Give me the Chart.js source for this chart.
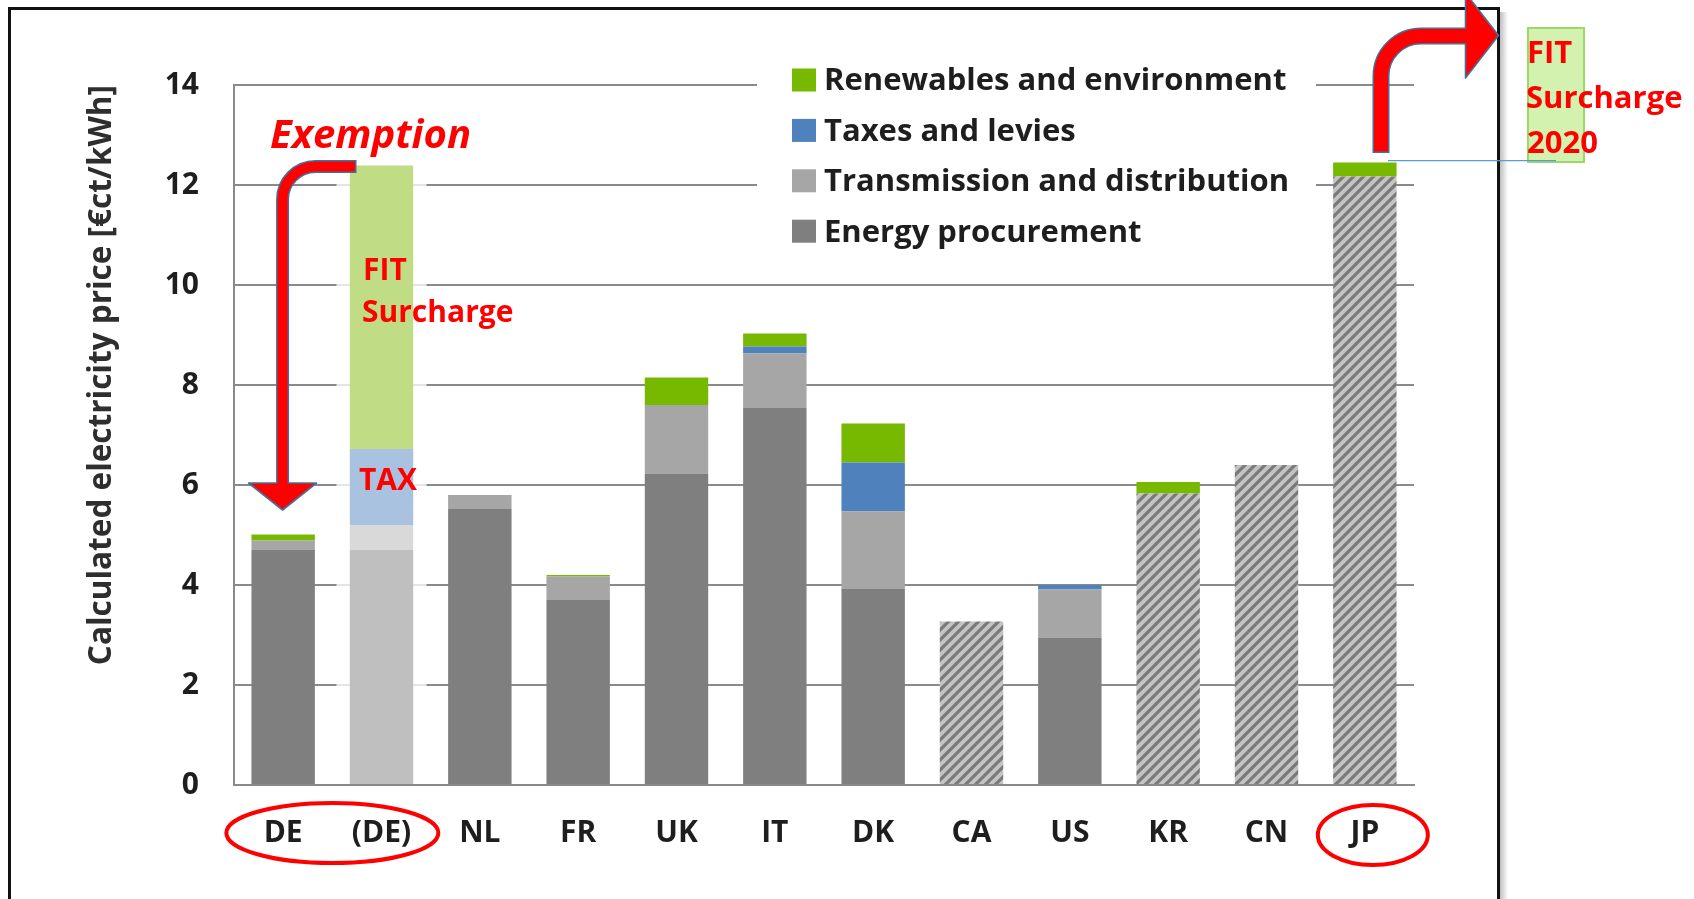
<!DOCTYPE html>
<html lang="en">
  <head>
    <meta charset="UTF-8" />
    <meta name="viewport" content="width=device-width, initial-scale=1.0" />
    <script src="https://cdn.jsdelivr.net/npm/chart.js"></script>
    <title>Calculated electricity price</title>
    <style>
      html,
      body {
        margin: 0;
        padding: 0;
        background: #fff;
        overflow: hidden;
      }
      .graph {
        position: relative;
        width: 1694px;
        height: 899px;
      }
    </style>
  </head>

  <body>
    <div class="graph">
      <canvas id="canvas_grafico" width="1694" height="899"></canvas>
    </div>
  </body>
</html>
<script>
  // values, €ct/kWh
  var countries = ["DE", "(DE)", "NL", "FR", "UK", "IT", "DK", "CA", "US", "KR", "CN", "JP"];
  var energyProcurement = [4.7, 4.7, 5.52, 3.71, 6.23, 7.55, 3.93, 0, 2.95, 0, 0, 0];
  var noBreakdown = [0, 0, 0, 0, 0, 0, 0, 3.27, 0, 5.83, 6.4, 12.17];
  var transmission = [0.19, 0.5, 0.28, 0.46, 1.37, 1.08, 1.54, 0, 0.96, 0, 0, 0];
  var taxes = [0, 1.52, 0, 0, 0, 0.14, 0.98, 0, 0.09, 0, 0, 0];
  var renewables = [0.12, 5.67, 0, 0.03, 0.55, 0.26, 0.78, 0, 0, 0.23, 0, 0.28];
  var yTicks = [0, 2, 4, 6, 8, 10, 12, 14];

  var RED = "#ff0000";
  var OUTLINE = "#41719c";
  var FONT = "'Open Sans', Lato, sans-serif";

  // the (DE) column is drawn in pale colours
  var paleIndex = 1;
  function colour(normal, pale) {
    return function (ctx) {
      return ctx.dataIndex === paleIndex ? pale : normal;
    };
  }

  // hatch for the columns without breakdown
  function hatch() {
    var c = document.createElement("canvas");
    c.width = 10;
    c.height = 10;
    var g = c.getContext("2d");
    g.fillStyle = "#c4c4c4";
    g.fillRect(0, 0, 10, 10);
    g.strokeStyle = "#7a7a7a";
    g.lineWidth = 3.2;
    g.beginPath();
    g.moveTo(0, 10);
    g.lineTo(10, 0);
    g.moveTo(-3, 3);
    g.lineTo(3, -3);
    g.moveTo(7, 13);
    g.lineTo(13, 7);
    g.stroke();
    return g.createPattern(c, "repeat");
  }

  var dados = {
    labels: countries,
    datasets: [
      {
        label: "Energy procurement",
        data: energyProcurement,
        backgroundColor: colour("#7f7f7f", "#bfbfbf"),
        legendColor: "#7f7f7f",
      },
      {
        label: "No breakdown",
        data: noBreakdown,
        backgroundColor: hatch(),
        hideInLegend: true,
      },
      {
        label: "Transmission and distribution",
        data: transmission,
        backgroundColor: colour("#a6a6a6", "#d9d9d9"),
        legendColor: "#a6a6a6",
      },
      {
        label: "Taxes and levies",
        data: taxes,
        backgroundColor: colour("#4f81bd", "#a9c2df"),
        legendColor: "#4f81bd",
      },
      {
        label: "Renewables and environment",
        data: renewables,
        backgroundColor: colour("#77b800", "#c0dc84"),
        legendColor: "#77b800",
      },
    ],
  };

  function drawArrow(ctx, path, head, width) {
    ctx.save();
    ctx.lineCap = "butt";
    ctx.lineJoin = "round";
    ctx.strokeStyle = OUTLINE;
    ctx.lineWidth = width + 3;
    ctx.beginPath();
    path(true);
    ctx.stroke();
    ctx.beginPath();
    ctx.moveTo(head[0][0], head[0][1]);
    ctx.lineTo(head[1][0], head[1][1]);
    ctx.lineTo(head[2][0], head[2][1]);
    ctx.closePath();
    ctx.fillStyle = RED;
    ctx.fill();
    ctx.lineWidth = 1.6;
    ctx.stroke();
    ctx.strokeStyle = RED;
    ctx.lineWidth = width;
    ctx.beginPath();
    path(false);
    ctx.stroke();
    ctx.restore();
  }

  var annotations = {
    id: "annotations",
    beforeDatasetsDraw: function (chart) {
      var ctx = chart.ctx;
      var x = chart.scales.x;
      var area = chart.chartArea;
      ctx.save();
      // pale strip behind (DE)
      var cx = x.getPixelForValue(1);
      ctx.fillStyle = "rgba(255,255,255,0.78)";
      ctx.fillRect(cx - 45, 150, 90, area.bottom - 151);
      // white box behind legend
      ctx.fillStyle = "#fff";
      ctx.fillRect(757, 50, 559, 205);
      ctx.restore();
    },
    afterDraw: function (chart) {
      var ctx = chart.ctx;
      var x = chart.scales.x;
      ctx.save();

      // frame
      var grad = ctx.createLinearGradient(1500, 0, 1508, 0);
      grad.addColorStop(0, "rgba(0,0,0,0.25)");
      grad.addColorStop(1, "rgba(0,0,0,0)");
      ctx.fillStyle = grad;
      ctx.fillRect(1500, 12, 8, 900);
      ctx.strokeStyle = "#111";
      ctx.lineWidth = 3;
      ctx.strokeRect(9.5, 8.5, 1489, 1000);

      // legend
      var items = chart.data.datasets.filter(function (d) {
        return !d.hideInLegend;
      }).reverse();
      ctx.font = "bold 31px " + FONT;
      ctx.textBaseline = "middle";
      items.forEach(function (d, i) {
        var y = 80 + i * 50.4;
        ctx.fillStyle = d.legendColor;
        ctx.fillRect(792, y - 11.5, 24, 23);
        ctx.fillStyle = "#1e1e1e";
        ctx.fillText(d.label, 824, y + 1.5);
      });

      // red texts
      ctx.textBaseline = "alphabetic";
      ctx.fillStyle = RED;
      ctx.font = "italic bold 40px " + FONT;
      ctx.fillText("Exemption", 270, 148);
      ctx.font = "bold 30px " + FONT;
      ctx.fillText("FIT", 363, 280);
      ctx.fillText("Surcharge", 362, 322);
      ctx.fillText("TAX", 359, 490);

      // ellipses round the labels
      ctx.strokeStyle = RED;
      ctx.lineWidth = 4;
      ctx.beginPath();
      ctx.ellipse((x.getPixelForValue(0) + x.getPixelForValue(1)) / 2, 833, 106, 30, 0, 0, Math.PI * 2);
      ctx.stroke();
      ctx.beginPath();
      ctx.ellipse(x.getPixelForValue(11) + 8, 835, 55, 30, 0, 0, Math.PI * 2);
      ctx.stroke();

      // exemption arrow: from (DE) down to DE
      var ax = x.getPixelForValue(0) - 0.6;
      drawArrow(
        ctx,
        function (outline) {
          ctx.moveTo(outline ? 356.5 : 355, 166.5);
          ctx.arcTo(ax, 166.5, ax, 483, 33);
          ctx.lineTo(ax, 486);
        },
        [
          [ax - 34, 483],
          [ax + 34, 483],
          [ax, 510],
        ],
        10
      );

      // green box + JP arrow
      ctx.fillStyle = "rgba(196,238,150,0.75)";
      ctx.fillRect(1528, 28, 56, 134);
      ctx.strokeStyle = "#9bd86a";
      ctx.lineWidth = 2;
      ctx.strokeRect(1528, 28, 56, 134);
      ctx.strokeStyle = "#5b9bd5";
      ctx.lineWidth = 1.3;
      ctx.beginPath();
      ctx.moveTo(1388, 160.7);
      ctx.lineTo(1556, 160.7);
      ctx.stroke();

      drawArrow(
        ctx,
        function (outline) {
          ctx.moveTo(1381, outline ? 153 : 151.5);
          ctx.arcTo(1381, 36, 1465.5, 36, 40);
          ctx.lineTo(1468, 36);
        },
        [
          [1465.5, -7],
          [1465.5, 78],
          [1498.5, 35.5],
        ],
        14
      );

      ctx.fillStyle = RED;
      ctx.font = "bold 31px " + FONT;
      ctx.fillText("FIT", 1527, 63);
      ctx.fillText("Surcharge", 1526, 108);
      ctx.fillText("2020", 1527, 153);

      ctx.restore();
    },
  };

  var config = {
    type: "bar",
    data: dados,
    options: {
      responsive: false,
      animation: false,
      layout: { padding: { top: 85, right: 280, left: 0, bottom: 0 } },
      datasets: {
        bar: { categoryPercentage: 1, barPercentage: 0.645, borderWidth: 0 },
      },
      plugins: {
        legend: { display: false },
        tooltip: { enabled: false },
      },
      scales: {
        x: {
          stacked: true,
          grid: { display: false, drawTicks: false },
          border: { display: true, color: "#8a8a8a", width: 2 },
          ticks: { padding: 30, color: "#1e1e1e", font: { family: FONT, size: 30, weight: "bold" } },
          afterFit: function (scale) {
            scale.height = 114;
          },
        },
        y: {
          stacked: true,
          min: 0,
          max: 14,
          afterBuildTicks: function (scale) {
            scale.ticks = yTicks.map(function (v) {
              return { value: v };
            });
          },
          grid: { color: "#8a8a8a", lineWidth: 2, drawTicks: false },
          border: { display: true, color: "#8a8a8a", width: 2 },
          ticks: { padding: 35, color: "#1e1e1e", font: { family: FONT, size: 30, weight: "bold" } },
          title: {
            display: true,
            text: "Calculated electricity price [€ct/kWh]",
            align: "end",
            color: "#2e2e2e",
            padding: { top: 83, bottom: 0 },
            font: { family: FONT, size: 31.5, weight: "bold" },
          },
          afterFit: function (scale) {
            scale.width = 234;
          },
        },
      },
    },
    plugins: [annotations],
  };

  var myChart = new Chart(document.getElementById("canvas_grafico"), config);
</script>
